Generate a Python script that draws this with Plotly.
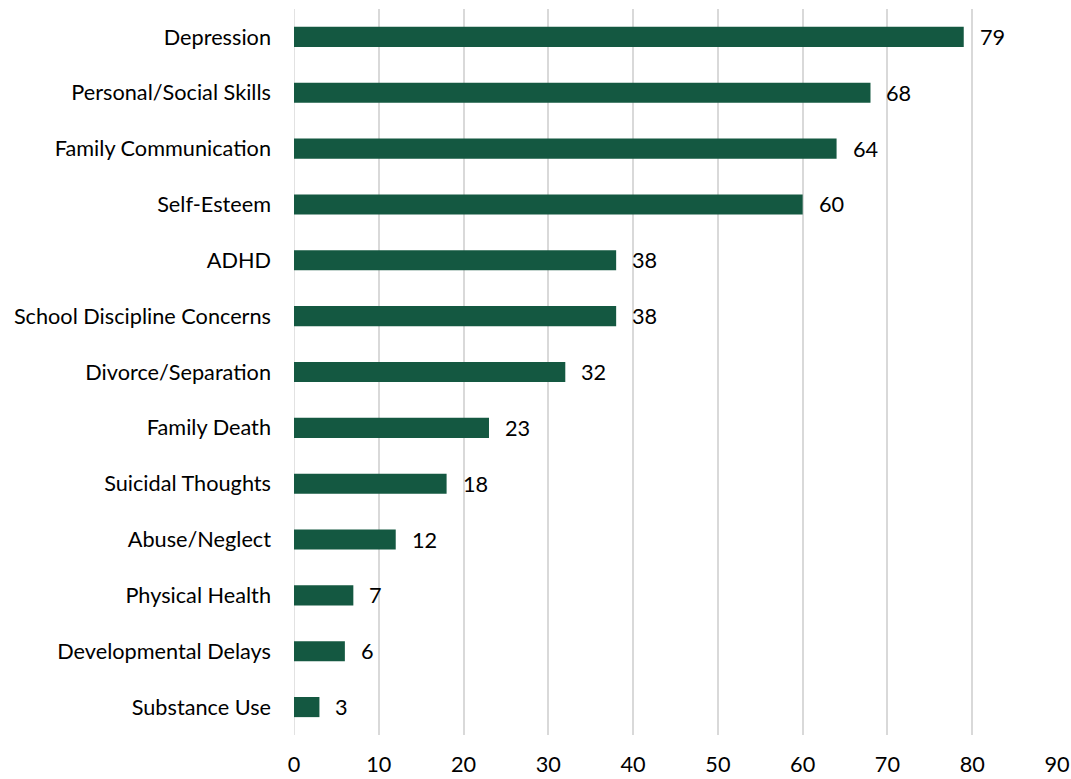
import plotly.graph_objects as go

categories = [
    "Depression",
    "Personal/Social Skills",
    "Family Communication",
    "Self-Esteem",
    "ADHD",
    "School Discipline Concerns",
    "Divorce/Separation",
    "Family Death",
    "Suicidal Thoughts",
    "Abuse/Neglect",
    "Physical Health",
    "Developmental Delays",
    "Substance Use",
]
values = [79, 68, 64, 60, 38, 38, 32, 23, 18, 12, 7, 6, 3]
x_ticks = [0, 10, 20, 30, 40, 50, 60, 70, 80, 90]

BAR_COLOR = "#145841"
FONT = "Lato, Calibri, Carlito, sans-serif"
FONT_SIZE = 21.7

fig = go.Figure(
    go.Bar(
        x=values,
        y=categories,
        orientation="h",
        width=0.36,
        marker=dict(color=BAR_COLOR, line=dict(width=0)),
        hoverinfo="skip",
    )
)

for cat, val in zip(categories, values):
    fig.add_annotation(
        x=val, y=cat, text=str(val), showarrow=False,
        xanchor="left", yanchor="middle", xshift=14,
        font=dict(family=FONT, size=FONT_SIZE, color="#000000"),
    )

fig.update_layout(
    width=1071,
    height=779,
    margin=dict(l=294, r=14, t=9, b=44, autoexpand=False),
    paper_bgcolor="white",
    plot_bgcolor="white",
    showlegend=False,
    bargap=0.64,
    font=dict(family=FONT, size=FONT_SIZE, color="#000000"),
)
fig.update_xaxes(
    range=[0, 90],
    tickvals=x_ticks,
    ticktext=[str(t) for t in x_ticks],
    showgrid=True,
    gridcolor="#d9d9d9",
    gridwidth=1.5,
    zeroline=False,
    showline=False,
    ticks="",
    automargin=False,
    ticklabelstandoff=14,
    tickfont=dict(family=FONT, size=FONT_SIZE, color="#000000"),
)
fig.update_yaxes(
    categoryorder="array",
    categoryarray=categories[::-1],
    showgrid=False,
    zeroline=False,
    showline=False,
    ticks="",
    automargin=False,
    ticklabelstandoff=22,
    tickfont=dict(family=FONT, size=FONT_SIZE, color="#000000"),
)
fig.add_shape(
    type="line", xref="x", yref="paper", x0=0, x1=0, y0=0, y1=1,
    line=dict(color="#d9d9d9", width=1.5), layer="below",
)

fig.write_html("out.html")
